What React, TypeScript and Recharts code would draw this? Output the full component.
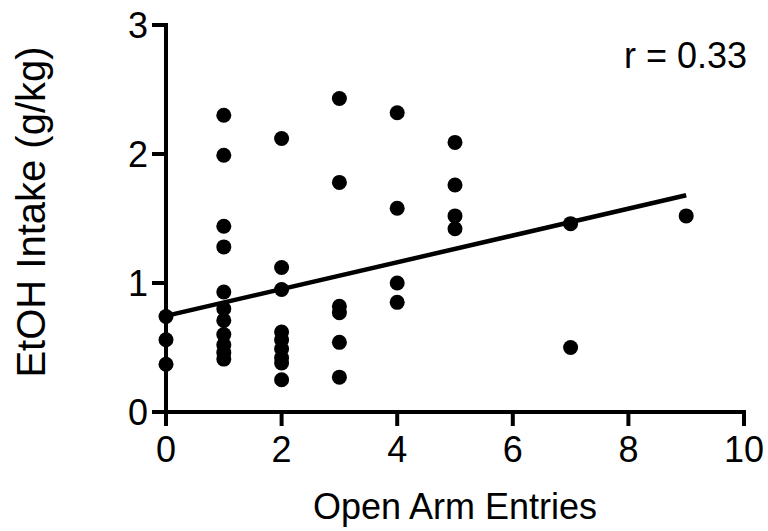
import { ScatterChart, Scatter, XAxis, YAxis, Customized } from 'recharts'

// EtOH intake (g/kg) per animal, grouped by number of open arm entries
const intakeAt0 = [0.74, 0.56, 0.37]
const intakeAt1 = [2.3, 1.99, 1.44, 1.28, 0.93, 0.8, 0.71, 0.6, 0.52, 0.46, 0.41]
const intakeAt2 = [2.12, 1.12, 0.95, 0.62, 0.56, 0.49, 0.42, 0.38, 0.25]
const intakeAt3 = [2.43, 1.78, 0.82, 0.77, 0.54, 0.27]
const intakeAt4 = [2.32, 1.58, 1.0, 0.85]
const intakeAt5 = [2.09, 1.76, 1.52, 1.42]
const intakeAt7 = [1.46, 0.5]
const intakeAt9 = [1.52]

const entryGroups: [number, number[]][] = [
  [0, intakeAt0],
  [1, intakeAt1],
  [2, intakeAt2],
  [3, intakeAt3],
  [4, intakeAt4],
  [5, intakeAt5],
  [7, intakeAt7],
  [9, intakeAt9]
]

// linear fit, drawn over the data range
const fitX = [0, 9]
const fitY = [0.745, 1.68]

const xTicks = [0, 2, 4, 6, 8, 10]
const yTicks = [0, 1, 2, 3]

const FONT = '"Liberation Sans", Arial, Helvetica, sans-serif'

const points = entryGroups.flatMap(([x, ys]) => ys.map(y => ({ x, y })))
const fitLine = fitX.map((x, i) => ({ x, y: fitY[i] }))

const Dot = (props: any) => <circle cx={props.cx} cy={props.cy} r={7.5} fill="#000" />

export default function App() {
  return (
    <div style={{ position: 'absolute', left: 0, top: 0, width: 768, height: 531, background: '#fff' }}>
      <ScatterChart width={768} height={531} margin={{ top: 25, right: 24, bottom: 0, left: 0 }}>
        <XAxis
          type="number"
          dataKey="x"
          domain={[0, 10]}
          ticks={xTicks}
          height={119}
          axisLine={{ stroke: '#000', strokeWidth: 4, strokeLinecap: 'square' }}
          tickLine={{ stroke: '#000', strokeWidth: 4 }}
          tickSize={14}
          tickMargin={10}
          tick={{ fill: '#000', fontSize: 36, fontFamily: FONT }}
          label={{
            content: ({ viewBox }: any) => (
              <text
                x={viewBox.x + viewBox.width / 2}
                y={viewBox.y + 107}
                textAnchor="middle"
                fontSize={36}
                fontFamily={FONT}
                fill="#000"
              >
                Open Arm Entries
              </text>
            )
          }}
        />
        <YAxis
          type="number"
          dataKey="y"
          domain={[0, 3]}
          ticks={yTicks}
          width={166}
          axisLine={{ stroke: '#000', strokeWidth: 4, strokeLinecap: 'square' }}
          tickLine={{ stroke: '#000', strokeWidth: 4 }}
          tickSize={14}
          tickMargin={4}
          tick={{ fill: '#000', fontSize: 36, fontFamily: FONT }}
          label={{
            content: () => (
              <text
                transform="translate(45, 212) rotate(-90)"
                textAnchor="middle"
                fontSize={40}
                fontFamily={FONT}
                fill="#000"
              >
                EtOH Intake (g/kg)
              </text>
            )
          }}
        />
        <Scatter data={points} shape={Dot} isAnimationActive={false} />
        <Scatter
          data={fitLine}
          line={{ stroke: '#000', strokeWidth: 4.5 }}
          shape={() => <g />}
          isAnimationActive={false}
        />
        <Customized
          component={() => (
            <text x={747} y={68} textAnchor="end" fontSize={36} fontFamily={FONT} fill="#000">
              r = 0.33
            </text>
          )}
        />
      </ScatterChart>
    </div>
  )
}
